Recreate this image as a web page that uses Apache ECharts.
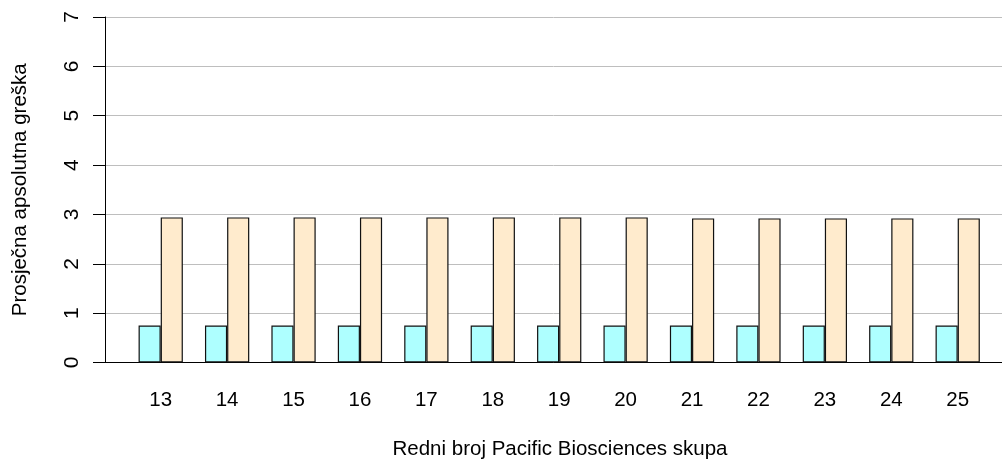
<!DOCTYPE html>
<html>
<head>
<meta charset="utf-8">
<script src="https://cdn.jsdelivr.net/npm/echarts@6/dist/echarts.min.js"></script>
<style>html,body{margin:0;padding:0;background:#fff;}#c{width:1002px;height:461px;}</style>
</head>
<body>
<div id="c"></div>
<script>
const categories = ['13','14','15','16','17','18','19','20','21','22','23','24','25'];
const seriesA = [0.75,0.75,0.75,0.75,0.75,0.75,0.75,0.75,0.75,0.75,0.75,0.75,0.75];
const seriesB = [2.94,2.94,2.94,2.94,2.94,2.94,2.94,2.94,2.92,2.92,2.92,2.92,2.92];
const yTicks = [0,1,2,3,4,5,6,7];
const xTitle = 'Redni broj Pacific Biosciences skupa';
const yTitle = 'Prosječna apsolutna greška';

const FONT = 'Liberation Sans, Arial, sans-serif';
const chart = echarts.init(document.getElementById('c'), null, {renderer:'canvas'});
const gTop = 17, gBottom = 98.5;
chart.setOption({
  animation: false,
  backgroundColor: '#fff',
  grid: [
    {left: 105, right: 0, top: gTop, bottom: gBottom, outerBoundsMode: 'none', containLabel: false},
    {left: 127.5, right: 11.1, top: gTop, bottom: gBottom, outerBoundsMode: 'none', containLabel: false}
  ],
  xAxis: [
    {gridIndex: 0, type: 'value', min: 0, max: 1,
     axisLine: {show: true, onZero: false, lineStyle: {color: '#000', width: 1}},
     axisTick: {show: false}, axisLabel: {show: false}, splitLine: {show: false},
     name: xTitle, nameLocation: 'middle', nameGap: 76,
     nameTextStyle: {fontFamily: FONT, fontSize: 20.5, color: '#000', padding: [0, 0, 0, 13]}},
    {gridIndex: 1, type: 'category', data: categories,
     axisLine: {show: false}, axisTick: {show: false},
     axisLabel: {fontFamily: FONT, fontSize: 20.5, color: '#000', margin: 27}}
  ],
  yAxis: [
    {gridIndex: 0, type: 'value', min: yTicks[0], max: yTicks[yTicks.length-1], interval: 1,
     axisLine: {show: true, lineStyle: {color: '#000', width: 1}},
     axisTick: {show: true, inside: false, length: 12, lineStyle: {color: '#000', width: 1}},
     axisLabel: {rotate: 90, margin: 22, fontFamily: FONT, fontSize: 21, color: '#000'},
     splitLine: {show: true, lineStyle: {color: '#BEBEBE', width: 1}},
     name: yTitle, nameLocation: 'middle', nameGap: 74, nameRotate: 90,
     nameTextStyle: {fontFamily: FONT, fontSize: 20.5, color: '#000'}},
    {gridIndex: 1, type: 'value', min: yTicks[0], max: yTicks[yTicks.length-1], interval: 1, show: false,
     splitLine: {show: false}}
  ],
  series: [
    {type: 'bar', xAxisIndex: 1, yAxisIndex: 1, data: seriesA, barWidth: 22.14, barGap: '0%',
     itemStyle: {color: '#AEFFFF', borderColor: '#111', borderWidth: 1.2}},
    {type: 'bar', xAxisIndex: 1, yAxisIndex: 1, data: seriesB, barWidth: 22.14, barGap: '0%',
     itemStyle: {color: '#FFEBCD', borderColor: '#111', borderWidth: 1.2}}
  ]
});
</script>
</body>
</html>
